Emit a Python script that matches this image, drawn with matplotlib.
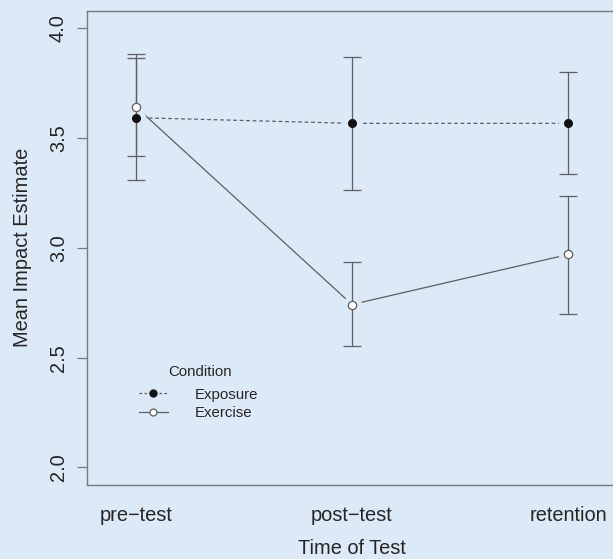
import numpy as np
import matplotlib
matplotlib.use("Agg")
import matplotlib.pyplot as plt

plt.rcParams["font.family"] = ["Liberation Sans", "DejaVu Sans"]

BG = "#dce9f6"
LINE = "#5f5f5f"
TEXT = "#262626"
SPINE = "#7a7a7a"

# data
times = ["pre\u2212test", "post\u2212test", "retention"]
x = np.array([1, 2, 3])

exposure_mean = np.array([3.593, 3.567, 3.567])
exposure_lo = np.array([3.310, 3.264, 3.335])
exposure_hi = np.array([3.882, 3.871, 3.801])

exercise_mean = np.array([3.643, 2.742, 2.970])
exercise_lo = np.array([3.419, 2.553, 2.698])
exercise_hi = np.array([3.863, 2.936, 3.236])

fig = plt.figure(figsize=(6.13, 5.59), dpi=100, facecolor=BG)
ax = fig.add_axes([87 / 613, 1 - 485 / 559, 530 / 613, 474.3 / 559], facecolor=BG)

# connecting lines (R type="b": gap round each point)
ax.plot(x, exposure_mean, color=LINE, lw=0.9, dashes=(3.0, 2.2), zorder=1)
ax.plot(x, exercise_mean, color=LINE, lw=0.9, zorder=1)
for m in (exposure_mean, exercise_mean):
    ax.plot(x, m, ls="none", marker="o", ms=13, mfc=BG, mec=BG, zorder=2)

# error bars
ax.errorbar(x, exposure_mean,
            yerr=[exposure_mean - exposure_lo, exposure_hi - exposure_mean],
            fmt="none", ecolor=LINE, elinewidth=0.9, capsize=6.8, capthick=0.9,
            zorder=3)
ax.errorbar(x, exercise_mean,
            yerr=[exercise_mean - exercise_lo, exercise_hi - exercise_mean],
            fmt="none", ecolor=LINE, elinewidth=0.9, capsize=6.8, capthick=0.9,
            zorder=3)

# points
ax.plot(x, exposure_mean, ls="none", marker="o", ms=5.5, mfc="#111111",
        mec="#111111", zorder=4)
ax.plot(x, exercise_mean, ls="none", marker="o", ms=6, mfc="white",
        mec=LINE, mew=0.9, zorder=4)

# legend (title drawn separately to get R's spacing)
h1, = ax.plot([], [], color=LINE, lw=0.9, dashes=(2.0, 2.0), marker="o",
              ms=5, mfc="#111111", mec="#111111")
h2, = ax.plot([], [], color=LINE, lw=0.9, marker="o", ms=5, mfc="white",
              mec=LINE, mew=0.9)
leg = ax.legend([h1, h2], ["Exposure", "Exercise"],
                loc="upper left", bbox_to_anchor=(139 / 613, 1 - 387.5 / 559),
                bbox_transform=fig.transFigure, frameon=False, fontsize=10.8,
                handlelength=1.9, handletextpad=1.8,
                labelspacing=0.3, borderpad=0, borderaxespad=0, numpoints=1)
for t in leg.get_texts():
    t.set_color(TEXT)
fig.text(200 / 613, 1 - 372 / 559, "Condition", ha="center", va="center",
         fontsize=10.8, color=TEXT)

ax.set_xlim(0.775, 3.225)
ax.set_ylim(1.92, 4.08)
ax.set_xticks(x, times)
ax.set_yticks([2.0, 2.5, 3.0, 3.5, 4.0], ["2.0", "2.5", "3.0", "3.5", "4.0"])
ax.tick_params(axis="x", length=0, pad=15, labelsize=14.4, labelcolor=TEXT)
ax.tick_params(axis="y", length=7.2, width=0.9, color=SPINE, pad=6.5,
               labelsize=14.4, labelcolor=TEXT, labelrotation=90)
for lbl in ax.get_yticklabels():
    lbl.set_va("center")

for side in ("left", "top", "bottom", "right"):
    ax.spines[side].set_color(SPINE)
    ax.spines[side].set_linewidth(1.0)

ax.set_xlabel("Time of Test", fontsize=14.4, color=TEXT, va="center")
ax.xaxis.set_label_coords(0.5, -(548 - 485) / 474.3)
ax.set_ylabel("Mean Impact Estimate", fontsize=14.4, color=TEXT, va="center")
ax.yaxis.set_label_coords(-(87 - 23) / 530, 0.5)

fig.savefig("out.png", dpi=100, facecolor=BG)
